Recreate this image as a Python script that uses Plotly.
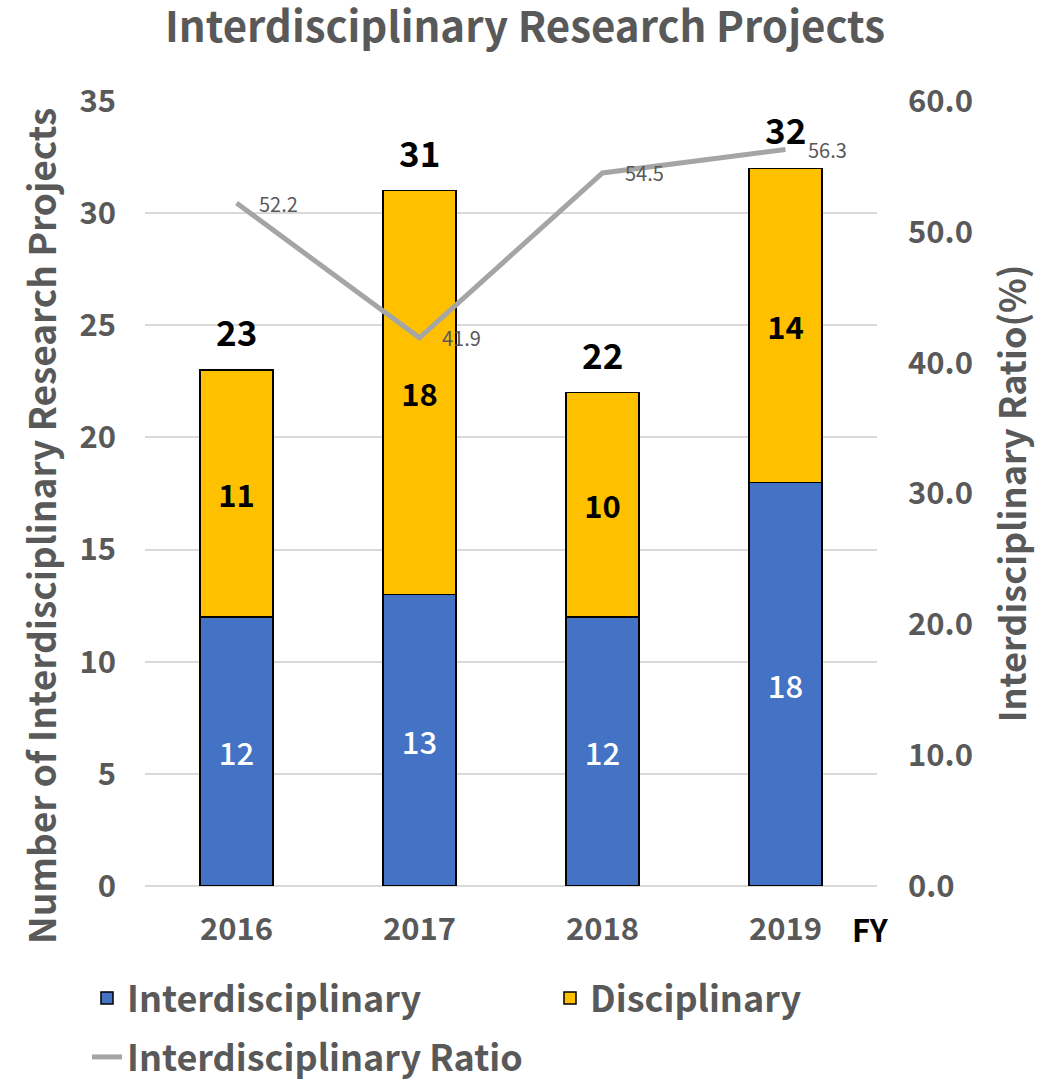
import plotly.graph_objects as go

years = ["2016", "2017", "2018", "2019"]
interdisciplinary = [12, 13, 12, 18]
disciplinary = [11, 18, 10, 14]
totals = [23, 31, 22, 32]
ratio = [52.2, 41.9, 54.5, 56.3]

FONT = "Noto Sans CJK JP, Noto Sans, sans-serif"
GRAY = "#595959"

L, R, T, B = 145, 161, 101, 195
W, H = 1038, 1081
PW = W - L - R
PH = H - T - B

def px_x(px):
    return (px - L) / PW

def px_y(py):
    return (H - B - py) / PH

def cx(px):
    return px / W

def cy(py):
    return 1 - py / H

fig = go.Figure()
fig.add_trace(go.Bar(
    x=years, y=interdisciplinary, name="Interdisciplinary",
    marker=dict(color="#4472C4", line=dict(color="black", width=1.5)),
    text=interdisciplinary, textposition="inside", insidetextanchor="middle",
    textfont=dict(color="white", size=31, family=FONT, weight=500), legend="legend",
))
fig.add_trace(go.Bar(
    x=years, y=disciplinary, name="Disciplinary",
    marker=dict(color="#FFC000", line=dict(color="black", width=1.5)),
    text=disciplinary, textposition="inside", insidetextanchor="middle",
    textfont=dict(color="black", size=31, family=FONT, weight="bold"), legend="legend2",
))
fig.add_trace(go.Scatter(
    x=years, y=ratio, name="Interdisciplinary Ratio", yaxis="y2",
    mode="lines", line=dict(color="#A5A5A5", width=5), legend="legend3",
))

annotations = []
for i, tot in enumerate(totals):
    annotations.append(dict(x=i, y=tot, xref="x", yref="y", text=f"<b>{tot}</b>",
                            showarrow=False, xanchor="center", yanchor="bottom", yshift=12,
                            font=dict(size=35, color="black", family=FONT)))
for i, r in enumerate(ratio):
    annotations.append(dict(x=i, y=r, xref="x", yref="y2", text=f"{r:.1f}",
                            showarrow=False, xanchor="left", yanchor="middle", xshift=20,
                            font=dict(size=20, color=GRAY, family=FONT)))
annotations.append(dict(text="<b>FY</b>", xref="paper", yref="paper", x=px_x(870), y=0, yshift=-42,
                        xanchor="center", yanchor="middle", showarrow=False,
                        font=dict(size=31, color="black", family=FONT)))
annotations.append(dict(text="<b>Number of Interdisciplinary Research Projects</b>",
                        xref="paper", yref="paper", x=px_x(40), y=px_y(526), showarrow=False,
                        xanchor="center", yanchor="middle", textangle=-90,
                        font=dict(size=37, color=GRAY, family=FONT)))

legend_common = dict(orientation="h", xref="container", yref="container", xanchor="left",
                     yanchor="middle", font=dict(size=36, color=GRAY, family=FONT, weight="bold"),
                     itemwidth=30, bgcolor="rgba(0,0,0,0)")

fig.update_layout(
    width=W, height=H,
    barmode="stack", bargap=0.6,
    paper_bgcolor="white", plot_bgcolor="white",
    margin=dict(l=L, r=R, t=T, b=B),
    font=dict(family=FONT, color=GRAY),
    title=dict(text="<b>Interdisciplinary Research Projects</b>", x=cx(525),
               xref="container", xanchor="center", y=cy(27), yref="container", yanchor="middle",
               font=dict(size=42, color=GRAY, family=FONT)),
    xaxis=dict(type="category", range=[-0.5, 3.5], showline=False, showgrid=False,
               tickfont=dict(size=31, color=GRAY, family=FONT, weight="bold"), ticklabelstandoff=22),
    yaxis=dict(range=[0, 35], dtick=5, showgrid=True, gridcolor="#D9D9D9", gridwidth=1.5,
               zeroline=True, zerolinecolor="#D9D9D9", zerolinewidth=1.5,
               tickfont=dict(size=31, color=GRAY, family=FONT, weight="bold"), ticklabelstandoff=28),
    yaxis2=dict(range=[0, 60], dtick=10, tickformat=".1f", overlaying="y", side="right",
                showgrid=False, zeroline=False,
                tickfont=dict(size=31, color=GRAY, family=FONT, weight="bold"), ticklabelstandoff=30,
                title=dict(text="<b>Interdisciplinary Ratio(%)</b>",
                           font=dict(size=36, color=GRAY, family=FONT), standoff=28)),
    legend=dict(x=cx(87), y=cy(998), **legend_common),
    legend2=dict(x=cx(550), y=cy(998), **legend_common),
    legend3=dict(x=cx(87), y=cy(1057), **legend_common),
    showlegend=True,
    annotations=annotations,
)
fig.write_html("out.html", config={"displayModeBar": False},
               post_script="document.body.style.margin='0';")
